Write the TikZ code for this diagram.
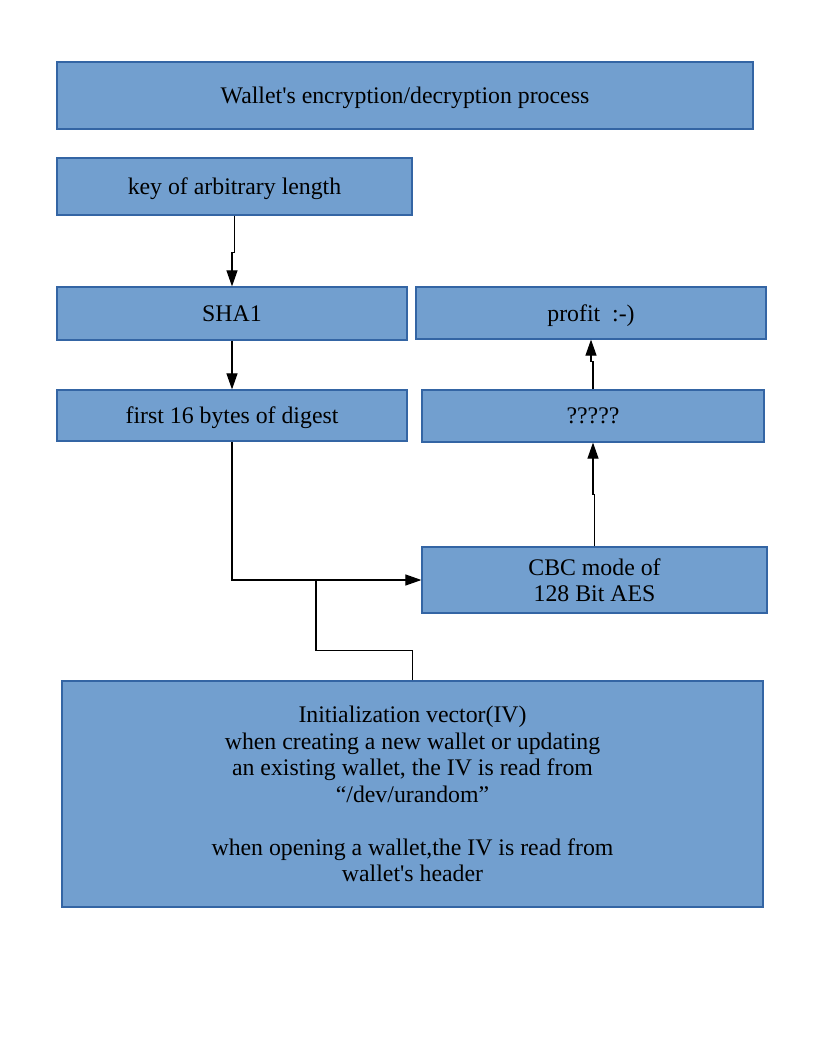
\documentclass[tikz,border=0pt]{standalone}
\usepackage{fontspec}
\setmainfont{Liberation Serif}
\usetikzlibrary{arrows.meta}
\definecolor{boxfill}{HTML}{729FCF}
\definecolor{boxline}{HTML}{3465A4}
\tikzset{
  box/.style={draw=boxline, fill=boxfill, line width=1.2pt, inner sep=0pt, align=center,
    font=\fontsize{23.8}{26.5}\selectfont},
  onebox/.style={box, text depth=0pt},
  conn/.style={draw=black, line width=1.1pt},
  arr/.style={conn, -{Triangle[length=16pt,width=11pt]}}
}
\begin{document}
\begin{tikzpicture}[x=1pt,y=-1pt]
\useasboundingbox[fill=white] (0,0) rectangle (816,1056);
\node[onebox, minimum width=696pt, minimum height=67pt] (title) at (405,95.5) {Wallet\textquotesingle s encryption/decryption process};
\node[onebox, minimum width=355pt, minimum height=57pt] (key) at (234.5,186.5) {key of arbitrary length};
\node[onebox, minimum width=350pt, minimum height=53pt] (sha) at (232,313.5) {SHA1};
\node[onebox, minimum width=350pt, minimum height=51pt] (first) at (232,415.5) {first 16 bytes of digest};
\node[onebox, minimum width=350pt, minimum height=52pt] (profit) at (591,313) {profit\ \ :-)};
\node[onebox, minimum width=342pt, minimum height=52pt] (q) at (593,416) {?????};
\node[box, minimum width=345pt, minimum height=66pt] (cbc) at (594.5,580) {CBC mode of\\128 Bit AES};
\node[box, minimum width=701pt, minimum height=226pt] (iv) at (412.5,794) {Initialization vector(IV)\\when creating a new wallet or updating\\an existing wallet, the IV is read from\\“/dev/urandom”\\[26.5pt]when opening a wallet,the IV is read from\\wallet\textquotesingle s header};
\coordinate (j) at (316,580);
\draw[arr] (key.south) -- ++(0,37) -| (sha.north);
\draw[arr] (sha.south) -- (first.north);
\draw[arr] (first.south) |- (cbc.west);
\draw[conn] (iv.north) -- ++(0,-30) -| (j);
\draw[arr] (cbc.north) -- ++(0,-52) -| (q.south);
\draw[arr] (q.north) -- ++(0,-28) -| (profit.south);
\end{tikzpicture}
\end{document}
